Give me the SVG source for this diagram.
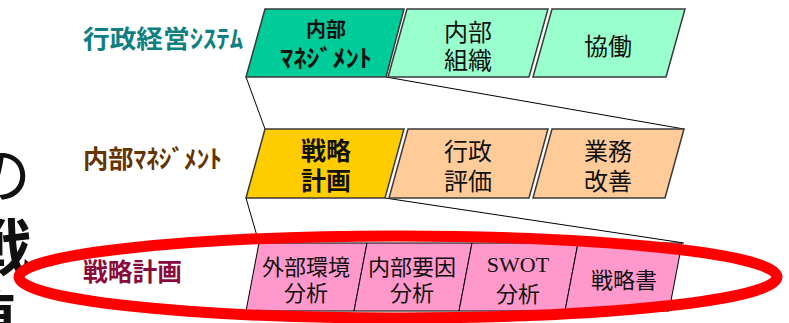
<svg xmlns="http://www.w3.org/2000/svg" width="789" height="323" viewBox="0 0 789 323">
<style>
.box{stroke:#3a3a3a;stroke-width:1.5;stroke-linejoin:miter}
.pink{fill:#FF99CC;stroke:#000;stroke-width:1}
.conn{fill:none;stroke:#000;stroke-width:1}
.jp{font-family:"Noto Sans CJK JP","Noto Sans CJK SC",sans-serif;fill:#111;text-anchor:middle}
.b{font-weight:bold}
.lbl{font-family:"Noto Sans CJK JP","Noto Sans CJK SC",sans-serif;font-weight:bold;font-size:25px}
.serif{font-family:"Liberation Serif",serif;fill:#111;text-anchor:middle}
</style>

<g id="fragments">
<text class="jp" x="0" y="198" font-size="62">の</text>
<text class="jp b" x="0" y="271" font-size="62">戦</text>
<text class="jp b" x="-15" y="343" font-size="62">値</text>
</g>

<g id="labels">
<text id="label-system" class="lbl" x="83" y="47.5" fill="#0F7F7F" textLength="160" lengthAdjust="spacingAndGlyphs">行政経営ｼｽﾃﾑ</text>
<text id="label-management" class="lbl" x="83" y="168" fill="#663300" textLength="139" lengthAdjust="spacingAndGlyphs">内部ﾏﾈｼﾞﾒﾝﾄ</text>
<text id="label-plan" class="lbl" x="83" y="281" fill="#8B0A3C" textLength="99" lengthAdjust="spacingAndGlyphs">戦略計画</text>
</g>

<g id="connectors">
<line class="conn" x1="246" y1="77" x2="265" y2="129"/>
<line class="conn" x1="386" y1="77" x2="684" y2="129"/>
<line class="conn" x1="246" y1="198" x2="259" y2="243"/>
<line class="conn" x1="385" y1="198" x2="684" y2="243"/>
</g>

<g id="node-naibu-management">
<polygon class="box" fill="#00CC99" points="265,9 404,9 386,77 246,77"/>
<text class="jp b" x="326" y="37" font-size="20">内部</text>
<text class="jp b" x="326" y="66.5" font-size="24" textLength="92" lengthAdjust="spacingAndGlyphs">ﾏﾈｼﾞﾒﾝﾄ</text>
</g>
<g id="node-naibu-soshiki">
<polygon class="box" fill="#99FFCC" points="407,9 548,9 529,77 388,77"/>
<text class="jp" x="468" y="41" font-size="24">内部</text>
<text class="jp" x="468" y="69" font-size="24">組織</text>
</g>
<g id="node-kyodo">
<polygon class="box" fill="#99FFCC" points="552,9 685,9 666,77 533,77"/>
<text class="jp" x="608" y="54.5" font-size="24">協働</text>
</g>

<g id="node-senryaku-keikaku">
<polygon class="box" fill="#FFCC00" points="265,129 404,129 385,198 246,198"/>
<text class="jp b" x="326" y="159.5" font-size="25">戦略</text>
<text class="jp b" x="326" y="189.5" font-size="25">計画</text>
</g>
<g id="node-gyosei-hyoka">
<polygon class="box" fill="#FFCC99" points="408,129 548,129 529,198 389,198"/>
<text class="jp" x="468" y="160" font-size="24">行政</text>
<text class="jp" x="468" y="190" font-size="24">評価</text>
</g>
<g id="node-gyomu-kaizen">
<polygon class="box" fill="#FFCC99" points="552,129 684,129 665,198 533,198"/>
<text class="jp" x="608" y="160" font-size="24">業務</text>
<text class="jp" x="608" y="190" font-size="24">改善</text>
</g>

<g id="node-gaibu">
<polygon class="pink" points="259,243 367,243 354,311 246,311"/>
<text class="jp" x="306" y="274.5" font-size="22">外部環境</text>
<text class="jp" x="306" y="300.5" font-size="22">分析</text>
</g>
<g id="node-naibu-yoin">
<polygon class="pink" points="367,243 472,243 459,311 354,311"/>
<text class="jp" x="412" y="274.5" font-size="22">内部要因</text>
<text class="jp" x="412" y="300.5" font-size="22">分析</text>
</g>
<g id="node-swot">
<polygon class="pink" points="472,243 578,243 565,311 459,311"/>
<text class="serif" x="518" y="272" font-size="22">SWOT</text>
<text class="jp" x="518" y="301.5" font-size="22">分析</text>
</g>
<g id="node-senryakusho">
<polygon class="pink" points="578,243 682,243 669,311 565,311"/>
<text class="jp" x="624" y="287.5" font-size="22">戦略書</text>
</g>

<g id="highlight">
<ellipse cx="398" cy="277" rx="379" ry="41" fill="none" stroke="#FF0000" stroke-width="11"/>
</g>
</svg>
